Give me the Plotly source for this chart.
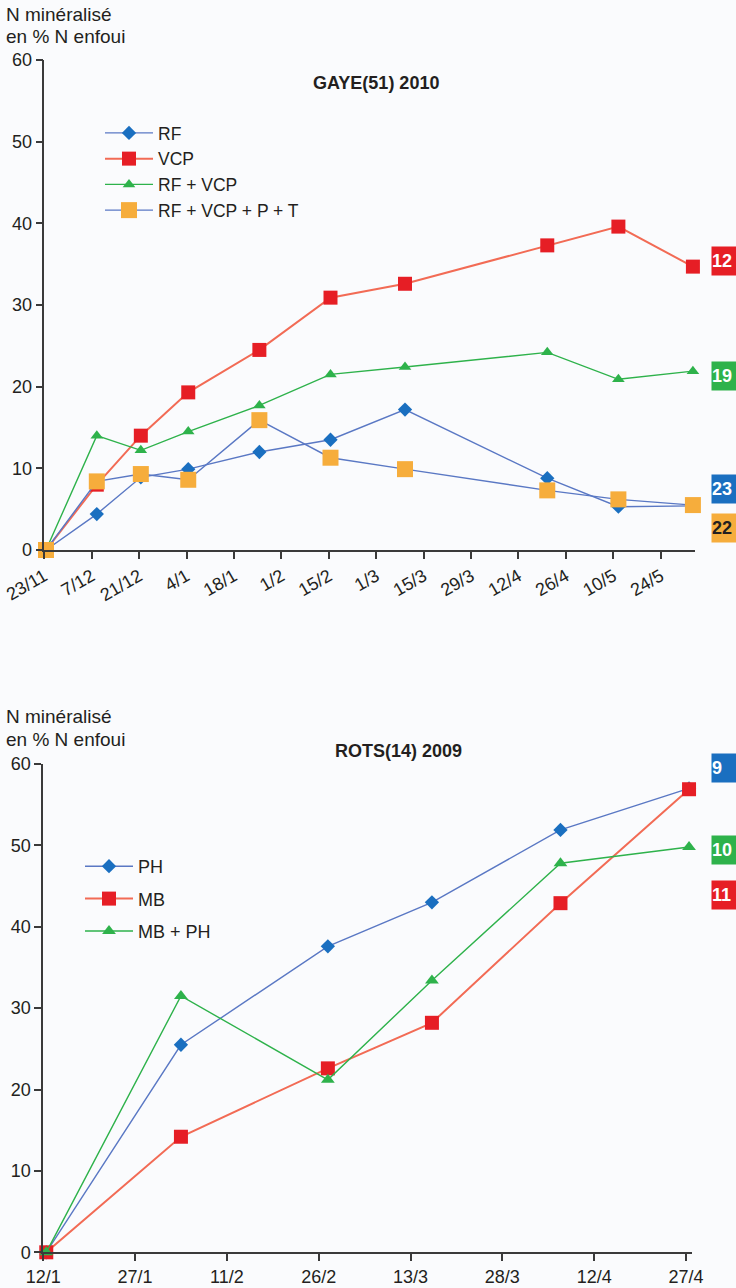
import pandas as pd
import plotly.graph_objects as go

# ---------------- Data: GAYE(51) 2010 ----------------
gaye_dates = ['2009-11-23', '2009-12-08', '2009-12-21', '2010-01-04', '2010-01-25',
              '2010-02-15', '2010-03-09', '2010-04-20', '2010-05-11', '2010-06-02']
gaye_rf = [0, 4.4, 8.9, 9.9, 12.0, 13.5, 17.2, 8.8, 5.3, 5.4]
gaye_vcp = [0, 8.0, 14.0, 19.3, 24.5, 30.9, 32.6, 37.3, 39.6, 34.7]
gaye_rf_vcp = [0, 14.0, 12.2, 14.5, 17.7, 21.5, 22.4, 24.2, 20.9, 21.9]
gaye_rf_vcp_p_t = [0, 8.4, 9.3, 8.6, 15.9, 11.3, 9.9, 7.3, 6.2, 5.5]
gaye_tick_dates = ['2009-11-23', '2009-12-07', '2009-12-21', '2010-01-04', '2010-01-18',
                   '2010-02-01', '2010-02-15', '2010-03-01', '2010-03-15', '2010-03-29',
                   '2010-04-12', '2010-04-26', '2010-05-10', '2010-05-24']
gaye_tick_labels = ['23/11', '7/12', '21/12', '4/1', '18/1', '1/2', '15/2', '1/3',
                    '15/3', '29/3', '12/4', '26/4', '10/5', '24/5']
gaye_names = ['RF', 'VCP', 'RF + VCP', 'RF + VCP + P + T']
gaye_codes = ['23', '12', '19', '22']

# ---------------- Data: ROTS(14) 2009 ----------------
rots_dates = ['2009-01-12', '2009-02-03', '2009-02-27', '2009-03-16', '2009-04-06', '2009-04-27']
rots_ph = [0, 25.5, 37.6, 43.0, 51.9, 57.0]
rots_mb = [0, 14.2, 22.6, 28.2, 42.9, 56.9]
rots_mb_ph = [0, 31.5, 21.2, 33.4, 47.8, 49.8]
rots_tick_dates = ['2009-01-12', '2009-01-27', '2009-02-11', '2009-02-26',
                   '2009-03-13', '2009-03-28', '2009-04-12', '2009-04-27']
rots_tick_labels = ['12/1', '27/1', '11/2', '26/2', '13/3', '28/3', '12/4', '27/4']
rots_names = ['PH', 'MB', 'MB + PH']
rots_codes = ['9', '10', '11']

# ---------------- Styling ----------------
W, H = 736, 1288
FONT = 'Liberation Sans, Arial, Helvetica, sans-serif'
TXT = '#231f20'
BG = '#fafbfd'
AX = '#3a3a3a'

BLUE_M, BLUE_L = '#1a6fc0', '#5a78c4'
RED_M, RED_L = '#e61e25', '#f26b55'
GREEN_M, GREEN_L = '#2eb24b', '#2eb24b'
ORANGE_M = '#f6ad3c'


def px(x):
    return x / W


def py(y):
    return 1 - y / H


def noon(dates):
    return pd.to_datetime(dates) + pd.Timedelta(hours=12)


fig = go.Figure()

top_specs = [
    (gaye_rf, gaye_names[0], BLUE_L, 1.4, BLUE_M, 'diamond', 11),
    (gaye_vcp, gaye_names[1], RED_L, 2.0, RED_M, 'square', 14),
    (gaye_rf_vcp, gaye_names[2], GREEN_L, 1.4, GREEN_M, 'triangle-up', 11),
    (gaye_rf_vcp_p_t, gaye_names[3], BLUE_L, 1.4, ORANGE_M, 'square', 16),
]
for vals, name, lc, lw, mc, sym, ms in top_specs:
    fig.add_trace(go.Scatter(
        x=noon(gaye_dates), y=vals, name=name, mode='lines+markers',
        line=dict(color=lc, width=lw),
        marker=dict(color=mc, symbol=sym, size=ms, line=dict(width=0)),
        cliponaxis=False, xaxis='x', yaxis='y', legend='legend',
        legendgroup=name,
    ))

bot_specs = [
    (rots_ph, rots_names[0], BLUE_L, 1.4, BLUE_M, 'diamond', 11),
    (rots_mb, rots_names[1], RED_L, 2.0, RED_M, 'square', 14),
    (rots_mb_ph, rots_names[2], GREEN_L, 1.4, GREEN_M, 'triangle-up', 12),
]
for vals, name, lc, lw, mc, sym, ms in bot_specs:
    fig.add_trace(go.Scatter(
        x=noon(rots_dates), y=vals, name=name, mode='lines+markers',
        line=dict(color=lc, width=lw),
        marker=dict(color=mc, symbol=sym, size=ms, line=dict(width=0)),
        cliponaxis=False, xaxis='x2', yaxis='y2', legend='legend2',
        legendgroup=name,
    ))

axis_common = dict(
    showline=True, linecolor=AX, linewidth=1.5, ticks='outside', ticklen=7,
    tickwidth=1.5, tickcolor=AX, showgrid=False, zeroline=False, automargin=False,
    tickfont=dict(family=FONT, size=18, color=TXT), fixedrange=True,
)

fig.update_layout(
    template='none',
    width=W, height=H,
    margin=dict(l=0, r=0, t=0, b=0, pad=0, autoexpand=False),
    paper_bgcolor=BG, plot_bgcolor=BG,
    font=dict(family=FONT, color=TXT),
    xaxis=dict(domain=[px(44.3), px(694.6)], anchor='y', type='date',
               range=['2009-11-23', '2010-06-03'],
               tickmode='array', tickvals=gaye_tick_dates, ticktext=gaye_tick_labels,
               tickangle=-30, **axis_common),
    yaxis=dict(domain=[py(550), py(60)], anchor='x', range=[0, 60], dtick=10,
               tick0=0, **axis_common),
    xaxis2=dict(domain=[px(43.2), px(692.1)], anchor='y2', type='date',
                range=['2009-01-12', '2009-04-28'],
                tickmode='array', tickvals=rots_tick_dates, ticktext=rots_tick_labels,
                tickangle=0, **axis_common),
    yaxis2=dict(domain=[py(1252.3), py(764)], anchor='x2', range=[0, 60], dtick=10,
                tick0=0, **axis_common),
    legend=dict(x=px(100), y=py(115), xanchor='left', yanchor='top',
                bgcolor='rgba(0,0,0,0)', font=dict(family=FONT, size=17.5, color=TXT),
                itemwidth=48, tracegroupgap=0),
    legend2=dict(x=px(80), y=py(848), xanchor='left', yanchor='top',
                 bgcolor='rgba(0,0,0,0)', font=dict(family=FONT, size=18, color=TXT),
                 itemwidth=48, tracegroupgap=6),
    showlegend=True,
)

annotations = []
# axis titles
for ytop in (14, 716):
    annotations.append(dict(text='N minéralisé', x=px(4), y=py(ytop), xref='paper', yref='paper',
                            xanchor='left', yanchor='middle', showarrow=False,
                            font=dict(family=FONT, size=19, color=TXT)))
    annotations.append(dict(text='en % N enfoui', x=px(4), y=py(ytop + 23), xref='paper', yref='paper',
                            xanchor='left', yanchor='middle', showarrow=False,
                            font=dict(family=FONT, size=19, color=TXT)))
# chart titles
annotations.append(dict(text='<b>GAYE(51) 2010</b>', x=px(376), y=py(83), xref='paper', yref='paper',
                        xanchor='center', yanchor='middle', showarrow=False,
                        font=dict(family=FONT, size=18, color=TXT)))
annotations.append(dict(text='<b>ROTS(14) 2009</b>', x=px(333), y=py(751), xref='paper', yref='paper',
                        xanchor='left', yanchor='middle', showarrow=False,
                        font=dict(family=FONT, size=18, color=TXT)))

# right-side code boxes
top_boxes = [(gaye_codes[1], RED_M, 'white', 261), (gaye_codes[2], GREEN_M, 'white', 376),
             (gaye_codes[0], BLUE_M, 'white', 489), (gaye_codes[3], ORANGE_M, TXT, 528)]
bot_boxes = [(rots_codes[0], BLUE_M, 'white', 768), (rots_codes[1], GREEN_M, 'white', 850),
             (rots_codes[2], RED_M, 'white', 895)]
for code, bg, fc, yc in top_boxes + bot_boxes:
    annotations.append(dict(text='<b>%s</b>' % code, x=px(711), y=py(yc), xref='paper', yref='paper',
                            xanchor='left', yanchor='middle', showarrow=False,
                            bgcolor=bg, width=36, height=28, align='left', borderpad=0,
                            font=dict(family=FONT, size=18, color=fc)))

fig.update_layout(annotations=annotations)
fig.write_html('out.html', config={'displayModeBar': False},
               post_script="document.body.style.margin='0';document.body.style.overflow='hidden';")
